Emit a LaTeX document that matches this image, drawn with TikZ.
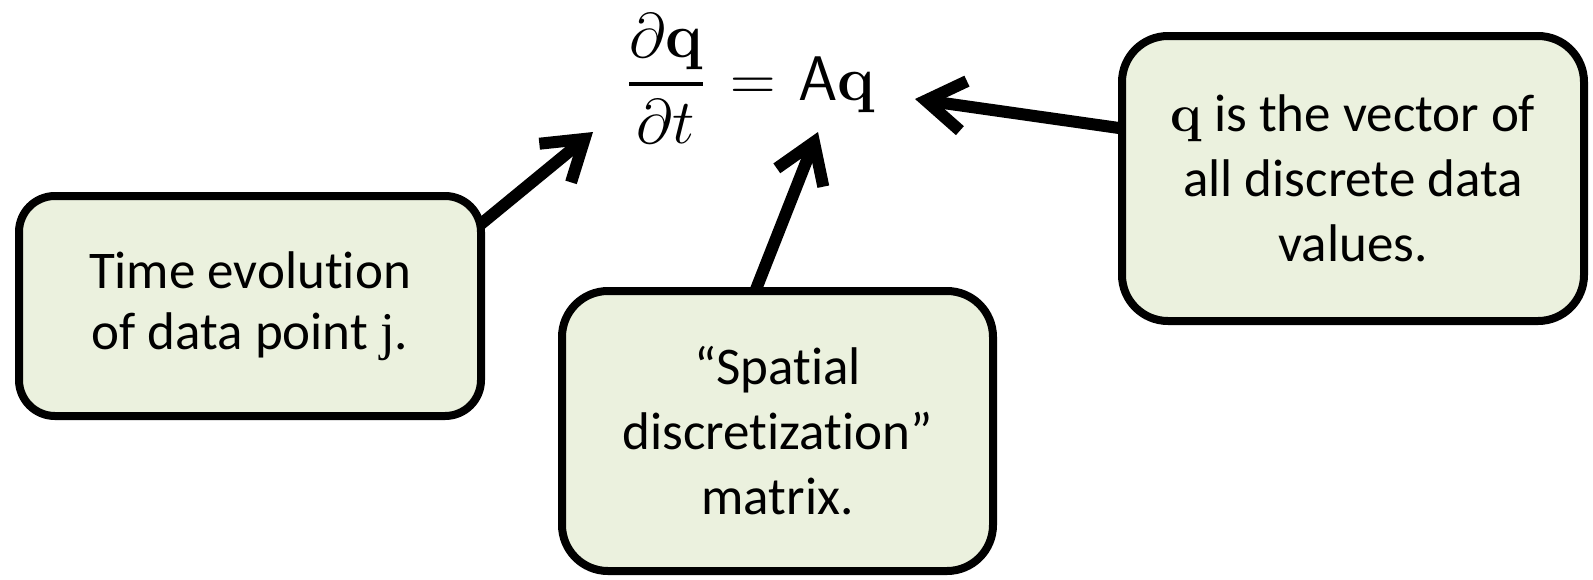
\RequirePackage{fix-cm}
\documentclass[tikz,border=0pt]{standalone}
\usepackage{amsmath}
\usepackage[no-math]{fontspec}
\setmainfont{Carlito}[Ligatures={NoCommon}]
\newfontfamily\serifj{Liberation Serif}
\usetikzlibrary{arrows.meta,backgrounds}
\definecolor{boxfill}{RGB}{235,241,222}
\begin{document}
\begin{tikzpicture}[x=1pt,y=-1pt,
  box/.style={draw=black, line width=8pt, fill=boxfill, rounded corners=#1,
    align=center, inner sep=0pt, font=\fontsize{53}{65}\selectfont},
  arr/.style={line width=12pt, -{Straight Barb[length=38pt,width=50pt]}},
]
\useasboundingbox (0,0) rectangle (1593,579);
\node[box=36pt, minimum width=462pt, minimum height=220pt] (b1) at (250,306)
  {\raisebox{-4pt}{Time evolution}\\of data point {\serifj j}.};
\node[box=46pt, minimum width=431pt, minimum height=280pt] (b2) at (777.5,431)
  {“Spatial\\discretization”\\matrix.};
\node[box=46pt, minimum width=462pt, minimum height=285pt] (b3) at (1353,178.5)
  {$\mathbf{q}$ is the vector of\\all discrete data\\values.};
\node[font=\fontsize{63}{76}\selectfont, inner sep=0pt, anchor=base west] (eq) at (628,100)
  {$\displaystyle\genfrac{}{}{3.6pt}{0}{\partial\mathbf{q}}{\partial t}\mkern2.6mu=\mkern1.4mu\mathsf{A}\mathbf{q}$};
\coordinate (t1) at (593,132);
\coordinate (t2) at (818,132);
\coordinate (t3) at (915,99);
\begin{scope}[on background layer]
\draw[arr] ([shift={(-15,41)}]b1.north east) -- (t1);
\draw[arr] ([shift={(-26.5,15)}]b2.north) -- (t2);
\draw[arr] ([shift={(15,-48.5)}]b3.west) -- (t3);
\end{scope}
\end{tikzpicture}
\end{document}
